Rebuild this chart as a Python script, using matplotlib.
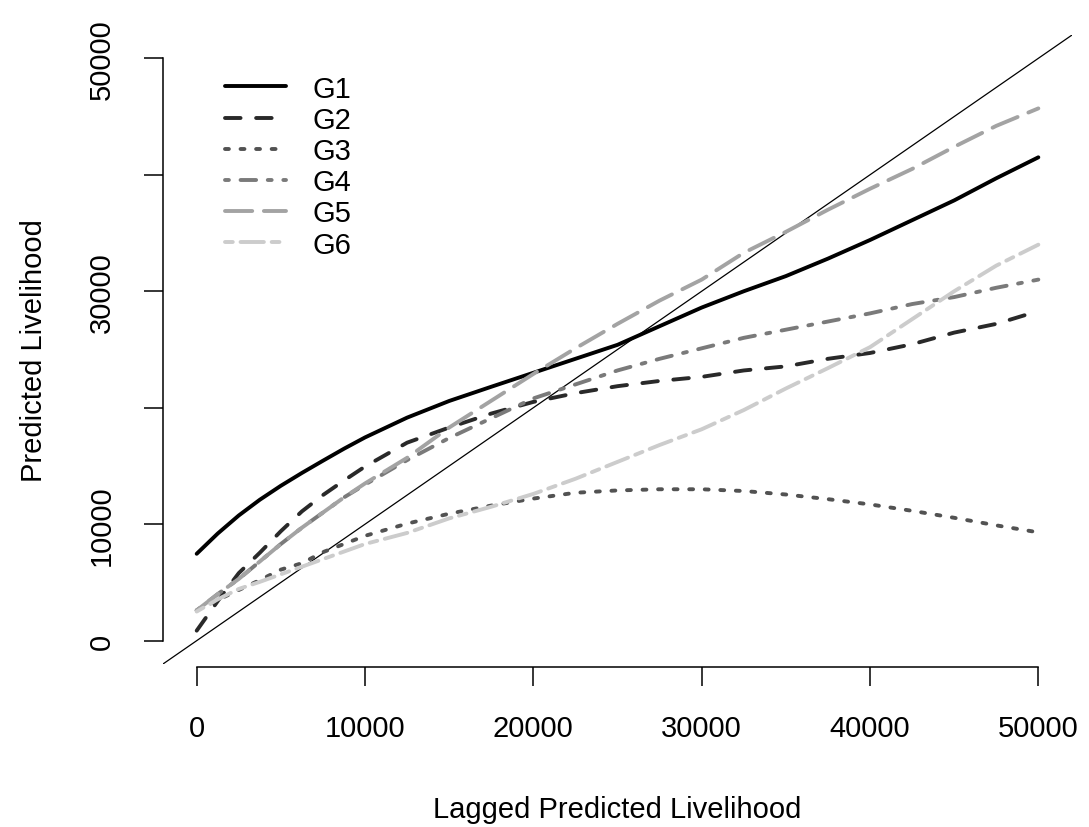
import matplotlib
matplotlib.use("Agg")
import matplotlib.pyplot as plt

plt.rcParams['font.family'] = ['Liberation Sans', 'DejaVu Sans']

# lagged predicted livelihood (x) and predicted livelihood per group
lag = [0, 1250, 2500, 3750, 5000, 6250, 7500, 8750, 10000, 12500, 15000, 17500,
       20000, 22500, 25000, 27500, 30000, 32500, 35000, 37500, 40000, 42500,
       45000, 47500, 50000]

g1 = [7460, 9200, 10750, 12100, 13300, 14400, 15450, 16480, 17450, 19150, 20580,
      21800, 23000, 24200, 25400, 27000, 28600, 30000, 31300, 32800, 34400,
      36100, 37800, 39700, 41500]
g2 = [860, 3400, 5800, 7550, 9400, 11100, 12500, 13750, 14950, 17000, 18300,
      19500, 20500, 21250, 21850, 22300, 22650, 23200, 23550, 24200, 24700,
      25450, 26450, 27200, 28300]
g3 = [2600, 3500, 4350, 5200, 6100, 6650, 7600, 8300, 9000, 10050, 10900,
      11600, 12200, 12700, 12900, 13000, 13000, 12850, 12550, 12150, 11700,
      11150, 10550, 9900, 9300]
g4 = [2600, 4000, 5300, 6800, 8300, 9700, 11000, 12300, 13400, 15500, 17400,
      19100, 20800, 22000, 23200, 24200, 25100, 26000, 26700, 27400, 28100,
      28900, 29500, 30300, 31000]
g5 = [2600, 4000, 5300, 6800, 8300, 9700, 11000, 12300, 13500, 15700, 18300,
      20600, 22900, 25100, 27200, 29200, 31000, 33300, 35100, 37000, 38800,
      40500, 42400, 44200, 45700]
g6 = [2500, 3550, 4440, 5050, 5700, 6350, 7000, 7650, 8300, 9250, 10500,
      11500, 12600, 13900, 15350, 16800, 18150, 19800, 21650, 23400, 25200,
      27600, 30000, 32200, 34000]

groups = ['G1', 'G2', 'G3', 'G4', 'G5', 'G6']
series = [g1, g2, g3, g4, g5, g6]
colors = ['#000000', '#292929', '#525252', '#7a7a7a', '#a3a3a3', '#cccccc']
# R lty 1..6
styles = ['-', (0, (4, 4)), (0, (1, 3)), (0, (1, 3, 4, 3)), (0, (7, 3)), (0, (2, 2, 6, 2))]

ticks = [0, 10000, 20000, 30000, 40000, 50000]
xtick_labels = ['0', '10000', '20000', '30000', '40000', '50000']
# R drops the y labels that would overlap
ytick_labels = ['0', '10000', '', '30000', '', '50000']

fig = plt.figure(figsize=(10.89, 8.28), dpi=100)
ax = fig.add_axes([0.1497, 0.1969, 0.8347, 0.7596])

ax.axline((0, 0), slope=1, color='black', lw=0.9, zorder=1)

for name, vals, c, ls in zip(groups, series, colors, styles):
    ax.plot(lag, vals, color=c, linestyle=ls, lw=2.8, label=name,
            dash_capstyle='round', solid_capstyle='round', zorder=2)

ax.set_xlim(-2000, 52000)
ax.set_ylim(-2000, 52000)

ax.set_xticks(ticks)
ax.set_yticks(ticks)
ax.set_xticklabels(xtick_labels)
ax.set_yticklabels(ytick_labels, rotation=90, va='center')

for side in ['top', 'right']:
    ax.spines[side].set_visible(False)
ax.spines['bottom'].set_bounds(0, 50000)
ax.spines['left'].set_bounds(0, 50000)
ax.spines['bottom'].set_position(('outward', 2))
ax.spines['bottom'].set_linewidth(1.1)
ax.spines['left'].set_linewidth(1.1)
ax.tick_params(axis='both', direction='out', length=14, width=1.1,
               labelsize=21, pad=20)

ax.set_xlabel('Lagged Predicted Livelihood', fontsize=21, labelpad=38)
ax.set_ylabel('Predicted Livelihood', fontsize=21, labelpad=29)

ax.legend(loc='upper left', bbox_to_anchor=(0.068, 0.937), frameon=False,
          fontsize=21, handlelength=2.1, handletextpad=0.9, labelspacing=0.11,
          borderpad=0, borderaxespad=0)

fig.savefig('out.png', dpi=100)
